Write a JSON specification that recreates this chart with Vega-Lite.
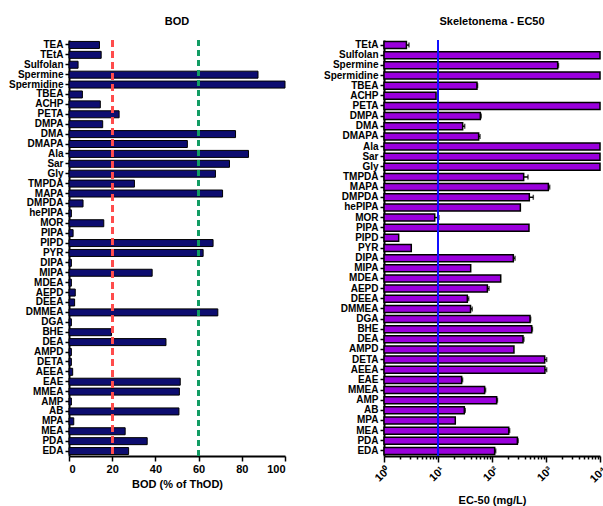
{
  "$schema": "https://vega.github.io/schema/vega-lite/v6.json",
  "padding": {"left": 8, "right": 0, "top": 16, "bottom": 5},
  "background": "white",
  "config": {
    "view": {"stroke": null},
    "font": "Liberation Sans",
    "axis": {
      "domainColor": "black", "domainWidth": 2, "tickColor": "black", "tickWidth": 1.5,
      "labelFont": "Liberation Sans", "labelFontWeight": "bold", "labelColor": "black", "labelFontSize": 10,
      "titleFont": "Liberation Sans", "titleFontWeight": "bold", "titleColor": "black", "titleFontSize": 11,
      "grid": false
    },
    "title": {"font": "Liberation Sans", "fontWeight": "bold", "fontSize": 11, "color": "black", "frame": "group", "anchor": "middle", "offset": 12}
  },
  "bounds": "flush",
  "spacing": 99,
  "hconcat": [
    {
      "title": "BOD",
      "width": 216,
      "height": 416,
      "data": {"values": [
        {"name": "TEA", "bod": 14.1}, {"name": "TEtA", "bod": 14.9}, {"name": "Sulfolan", "bod": 4.2},
        {"name": "Spermine", "bod": 87.5}, {"name": "Spermidine", "bod": 100}, {"name": "TBEA", "bod": 6.2},
        {"name": "ACHP", "bod": 14.5}, {"name": "PETA", "bod": 23.2}, {"name": "DMPA", "bod": 15.6},
        {"name": "DMA", "bod": 77.1}, {"name": "DMAPA", "bod": 54.8}, {"name": "Ala", "bod": 83.1},
        {"name": "Sar", "bod": 74.3}, {"name": "Gly", "bod": 67.8}, {"name": "TMPDA", "bod": 30.3},
        {"name": "MAPA", "bod": 71.1}, {"name": "DMPDA", "bod": 6.5}, {"name": "hePIPA", "bod": 1.1},
        {"name": "MOR", "bod": 16.1}, {"name": "PIPA", "bod": 1.9}, {"name": "PIPD", "bod": 66.7},
        {"name": "PYR", "bod": 62.1}, {"name": "DIPA", "bod": 1.1}, {"name": "MIPA", "bod": 38.5},
        {"name": "MDEA", "bod": 1.1}, {"name": "AEPD", "bod": 2.9}, {"name": "DEEA", "bod": 2.6},
        {"name": "DMMEA", "bod": 68.9}, {"name": "DGA", "bod": 1.1}, {"name": "BHE", "bod": 19.7},
        {"name": "DEA", "bod": 44.9}, {"name": "AMPD", "bod": 1.1}, {"name": "DETA", "bod": 1.1},
        {"name": "AEEA", "bod": 1.7}, {"name": "EAE", "bod": 51.5}, {"name": "MMEA", "bod": 51.1},
        {"name": "AMP", "bod": 1.1}, {"name": "AB", "bod": 50.9}, {"name": "MPA", "bod": 2.2},
        {"name": "MEA", "bod": 26.0}, {"name": "PDA", "bod": 36.2}, {"name": "EDA", "bod": 27.6}
      ]},
      "layer": [
        {
          "mark": {"type": "bar", "fill": "#0d0d70", "stroke": "black", "strokeWidth": 1, "size": 7},
          "encoding": {
            "y": {"field": "name", "type": "nominal", "sort": null, "scale": {"paddingInner": 0, "paddingOuter": 0},
                  "axis": {"title": null, "tickSize": 4, "labelPadding": 2, "domainWidth": 2}},
            "x": {"field": "bod", "type": "quantitative", "scale": {"domain": [0, 100], "nice": false},
                  "axis": {"title": "BOD (% of ThOD)", "values": [0, 20, 40, 60, 80, 100], "tickSize": 5, "labelPadding": 2, "titlePadding": 4, "labelFontSize": 11}}
          }
        },
        {
          "mark": {"type": "rule", "color": "#ff4d4d", "strokeWidth": 2, "strokeDash": [7, 4]},
          "encoding": {"x": {"datum": 20}}
        },
        {
          "mark": {"type": "rule", "color": "#129c64", "strokeWidth": 2, "strokeDash": [6, 4]},
          "encoding": {"x": {"datum": 60}}
        }
      ]
    },
    {
      "title": "Skeletonema - EC50",
      "width": 216,
      "height": 416,
      "data": {"values": [
        {"name": "TEtA", "ec50": 2.6, "hi": 2.9}, {"name": "Sulfolan", "ec50": 10000}, {"name": "Spermine", "ec50": 1645, "hi": 1700},
        {"name": "Spermidine", "ec50": 10000}, {"name": "TBEA", "ec50": 52.7, "hi": 54}, {"name": "ACHP", "ec50": 9.2},
        {"name": "PETA", "ec50": 10000}, {"name": "DMPA", "ec50": 60.8, "hi": 63}, {"name": "DMA", "ec50": 28.6, "hi": 31.2},
        {"name": "DMAPA", "ec50": 56.6, "hi": 60}, {"name": "Ala", "ec50": 10000}, {"name": "Sar", "ec50": 10000},
        {"name": "Gly", "ec50": 10000}, {"name": "TMPDA", "ec50": 386, "hi": 464}, {"name": "MAPA", "ec50": 1105, "hi": 1170},
        {"name": "DMPDA", "ec50": 491, "hi": 582}, {"name": "hePIPA", "ec50": 335}, {"name": "MOR", "ec50": 8.7, "hi": 10.4},
        {"name": "PIPA", "ec50": 484}, {"name": "PIPD", "ec50": 1.87}, {"name": "PYR", "ec50": 3.2},
        {"name": "DIPA", "ec50": 248, "hi": 267}, {"name": "MIPA", "ec50": 40.3}, {"name": "MDEA", "ec50": 145},
        {"name": "AEPD", "ec50": 82, "hi": 88}, {"name": "DEEA", "ec50": 34.9, "hi": 37}, {"name": "DMMEA", "ec50": 40, "hi": 43},
        {"name": "DGA", "ec50": 506, "hi": 520}, {"name": "BHE", "ec50": 543, "hi": 560}, {"name": "DEA", "ec50": 375, "hi": 390},
        {"name": "AMPD", "ec50": 255}, {"name": "DETA", "ec50": 945, "hi": 1028}, {"name": "AEEA", "ec50": 955, "hi": 1028},
        {"name": "EAE", "ec50": 27.4, "hi": 28.5}, {"name": "MMEA", "ec50": 73, "hi": 76}, {"name": "AMP", "ec50": 122, "hi": 126},
        {"name": "AB", "ec50": 30.7, "hi": 32}, {"name": "MPA", "ec50": 20.9}, {"name": "MEA", "ec50": 204, "hi": 212},
        {"name": "PDA", "ec50": 295, "hi": 305}, {"name": "EDA", "ec50": 112, "hi": 117}
      ]},
      "layer": [
        {
          "mark": {"type": "bar", "fill": "#9a00dc", "stroke": "black", "strokeWidth": 1.5, "size": 7},
          "encoding": {
            "y": {"field": "name", "type": "nominal", "sort": null, "scale": {"paddingInner": 0, "paddingOuter": 0},
                  "axis": {"title": null, "tickSize": 4, "labelPadding": 2}},
            "x": {"field": "ec50", "type": "quantitative", "scale": {"type": "log", "domain": [1, 10000], "nice": false},
                  "axis": {
                    "title": "EC-50 (mg/L)",
                    "values": [1,2,3,4,5,6,7,8,9,10,20,30,40,50,60,70,80,90,100,200,300,400,500,600,700,800,900,1000,2000,3000,4000,5000,6000,7000,8000,9000,10000],
                    "labelExpr": "datum.value==1?'10⁰':datum.value==10?'10¹':datum.value==100?'10²':datum.value==1000?'10³':datum.value==10000?'10⁴':''",
                    "labelAngle": -45, "labelOverlap": false, "labelBound": false, "labelFontSize": 11,
                    "tickSize": {"condition": {"test": "indexof([1,10,100,1000,10000], datum.value) >= 0", "value": 6}, "value": 3},
                    "titlePadding": 10
                  }},
            "x2": {"datum": 1}
          }
        },
        {
          "transform": [{"filter": "isValid(datum.hi)"}],
          "mark": {"type": "rule", "color": "black", "strokeWidth": 1.5},
          "encoding": {
            "y": {"field": "name", "type": "nominal", "sort": null},
            "x": {"field": "ec50", "type": "quantitative"},
            "x2": {"field": "hi"}
          }
        },
        {
          "transform": [{"filter": "isValid(datum.hi)"}],
          "mark": {"type": "tick", "color": "black", "thickness": 1.5, "size": 5, "orient": "vertical"},
          "encoding": {
            "y": {"field": "name", "type": "nominal", "sort": null},
            "x": {"field": "hi", "type": "quantitative"}
          }
        },
        {
          "mark": {"type": "rule", "color": "#1010ff", "strokeWidth": 2},
          "encoding": {"x": {"datum": 10}}
        }
      ]
    }
  ]
}
